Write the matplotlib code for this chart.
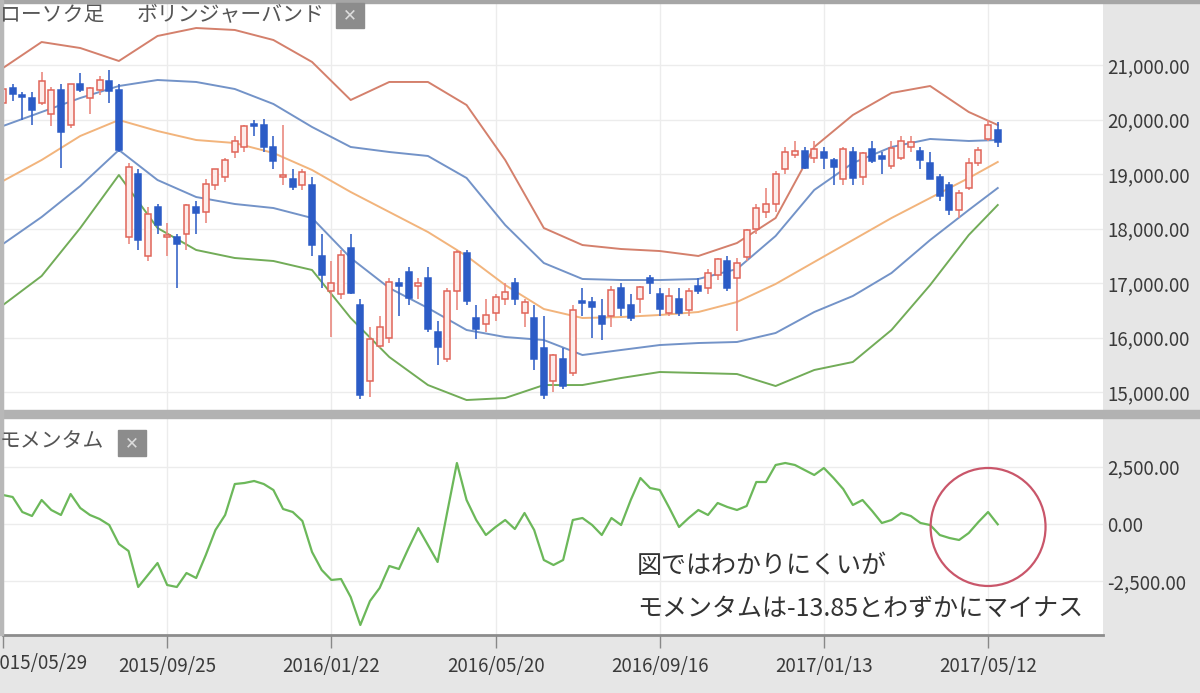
import matplotlib
matplotlib.use("Agg")
import matplotlib.pyplot as plt
from matplotlib.patches import Rectangle, Ellipse
from matplotlib.ticker import FuncFormatter

plt.rcParams['font.family'] = ['Noto Sans CJK JP', 'DejaVu Sans']

W, H = 1200, 693

# weekly candles, week 0 = 2015/05/29
opens = [20300, 20570, 20450, 20400, 20300, 20100, 20550, 19900, 20650, 20400,
         20550, 20700, 20550, 17850, 19000, 17500, 18400, 17850, 17850, 17900,
         18400, 18300, 18800, 18950, 19400, 19500, 19900, 19900, 19500, 18950,
         18900, 18800, 18800, 17500, 16850, 16800, 17650, 16600, 15200, 15850,
         16000, 17000, 17200, 16950, 17100, 16100, 15600, 16850, 17550, 16350,
         16250, 16450, 16700, 17000, 16450, 16350, 15800, 15200, 15600, 15350,
         16650, 16650, 16400, 16400, 16900, 16600, 16700, 17100, 16800, 16450,
         16700, 16500, 16950, 16900, 17150, 17400, 17100, 17480, 18000, 18300,
         18450, 19100, 19350, 19420, 19300, 19400, 19250, 18900, 19400, 18950,
         19450, 19300, 19150, 19300, 19500, 19420, 19200, 18950, 18800, 18340,
         18750, 19200, 19650, 19800]
highs = [20655, 20655, 20500, 20500, 20868, 20600, 20650, 20650, 20850, 20600,
         20800, 20900, 20650, 19200, 19100, 18400, 18450, 18100, 17900, 18450,
         18500, 18900, 19100, 19300, 19700, 19900, 20000, 20012, 19700, 19900,
         19100, 19100, 18950, 17900, 17400, 17600, 17900, 16700, 16200, 16400,
         17100, 17100, 17300, 17100, 17300, 16300, 16900, 17613, 17600, 16600,
         16700, 16800, 17000, 17100, 16700, 16600, 16400, 15700, 15800, 16600,
         16900, 16750, 16700, 16950, 17000, 16800, 16950, 17150, 16900, 16900,
         16900, 16900, 17100, 17250, 17450, 17500, 17450, 18000, 18450, 18750,
         19050, 19500, 19600, 19500, 19615, 19500, 19300, 19500, 19500, 19400,
         19600, 19400, 19600, 19700, 19700, 19500, 19400, 19000, 18850, 18700,
         19300, 19500, 20000, 19950]
lows = [20200, 20340, 19990, 19900, 20260, 19880, 19115, 19850, 20500, 20100,
        20450, 20300, 19400, 17714, 17600, 17400, 17900, 17500, 16901, 17600,
        17900, 18100, 18700, 18850, 19300, 19400, 19700, 19400, 19100, 18800,
        18700, 18700, 17500, 16900, 16017, 16700, 16800, 14865, 14900, 15800,
        15900, 16400, 16600, 16700, 16100, 15500, 15550, 16500, 16600, 15975,
        16100, 16300, 16600, 16600, 16200, 15400, 14864, 15000, 15050, 15300,
        16400, 16000, 15950, 16200, 16400, 16300, 16450, 16800, 16400, 16400,
        16400, 16400, 16800, 16800, 17050, 16850, 16111, 17400, 17900, 18200,
        18300, 19000, 19300, 19100, 19200, 19100, 18800, 18800, 18800, 18800,
        19200, 19000, 19100, 19250, 19400, 19100, 18900, 18500, 18250, 18200,
        18700, 19150, 19600, 19500]
closes = [20563, 20461, 20407, 20174, 20706, 20539, 19780, 20650, 20544, 20585,
          20724, 20519, 19435, 19136, 17792, 18264, 18070, 17880, 17725, 18438,
          18291, 18825, 19083, 19265, 19597, 19879, 19883, 19504, 19230, 18986,
          18769, 19033, 17697, 17147, 17000, 17518, 16819, 14952, 15967, 16188,
          17014, 16938, 16724, 17002, 16164, 15821, 16848, 17572, 16666, 16150,
          16412, 16736, 16834, 16700, 16650, 15599, 14952, 15682, 15106, 16497,
          16627, 16569, 16254, 16880, 16545, 16360, 16925, 17000, 16519, 16754,
          16450, 16860, 16856, 17184, 17446, 16905, 17374, 17967, 18381, 18450,
          18996, 19401, 19427, 19114, 19454, 19287, 19137, 19467, 18918, 19378,
          19234, 19283, 19469, 19604, 19580, 19262, 18909, 18597, 18335, 18650,
          19196, 19445, 19900, 19590]

# Bollinger bands read every 4 weeks
band_idx = [0, 4, 8, 12, 16, 20, 24, 28, 32, 36, 40, 44, 48, 52, 56, 60, 64,
            68, 72, 76, 80, 84, 88, 92, 96, 100, 103]
band_up2 = [20945, 21422, 21312, 21074, 21533, 21679, 21643, 21459, 21056, 20358,
            20689, 20689, 20266, 19257, 18009, 17697, 17624, 17587, 17496, 17734,
            18193, 19496, 20083, 20487, 20615, 20138, 19899]
band_up1 = [19881, 20138, 20395, 20615, 20725, 20689, 20560, 20285, 19863, 19496,
            19404, 19331, 18927, 18064, 17367, 17074, 17055, 17055, 17074, 17257,
            17863, 18707, 19202, 19496, 19643, 19606, 19624]
band_mid = [18872, 19257, 19698, 19991, 19789, 19624, 19569, 19386, 19074, 18670,
            18303, 17936, 17496, 16963, 16523, 16358, 16376, 16413, 16468, 16652,
            16982, 17386, 17789, 18193, 18560, 18927, 19221]
band_lo1 = [17716, 18211, 18780, 19441, 18890, 18578, 18450, 18376, 18193, 17459,
            16908, 16541, 16138, 16009, 15954, 15679, 15771, 15862, 15899, 15918,
            16083, 16468, 16762, 17184, 17789, 18340, 18743]
band_lo2 = [16596, 17129, 18009, 18982, 18009, 17606, 17459, 17404, 17239, 16358,
            15642, 15128, 14853, 14890, 15128, 15128, 15257, 15367, 15349, 15330,
            15110, 15404, 15551, 16138, 16963, 17881, 18431]

momentum = [1262, 1175, 522, 348, 1044, 609, 392, 1305, 696, 392,
            218, -44, -870, -1175, -2741, -2219, -1697, -2654, -2741, -2132,
            -2349, -1349, -261, 392, 1740, 1784, 1871, 1740, 1479, 653,
            522, 131, -1218, -2001, -2436, -2393, -3176, -4394, -3350, -2784,
            -1827, -1958, -1044, -174, -914, -1653, 522, 2654, 1044, 174,
            -479, -131, 174, -218, 479, -261, -1566, -1784, -1566, 174,
            261, -44, -479, 261, -44, 1044, 2001, 1566, 1479, 696,
            -131, 261, 609, 392, 914, 740, 609, 783, 1827, 1827,
            2567, 2654, 2567, 2349, 2132, 2436, 2001, 1523, 827, 1044,
            566, 44, 174, 479, 348, 44, -44, -479, -609, -696,
            -392, 87, 522, -13.85]

date_idx = [0, 17, 34, 51, 68, 85, 102]
date_labels = ['2015/05/29', '2015/09/25', '2016/01/22', '2016/05/20',
               '2016/09/16', '2017/01/13', '2017/05/12']
price_ticks = [15000, 16000, 17000, 18000, 19000, 20000, 21000]
mom_ticks = [-2500, 0, 2500]

title_top = ['ローソク足', 'ボリンジャーバンド']
title_bottom = 'モメンタム'
note_lines = ['図ではわかりにくいが', 'モメンタムは-13.85とわずかにマイナス']


def frac(x0, y0, x1, y1):
    return [x0 / W, 1 - y1 / H, (x1 - x0) / W, (y1 - y0) / H]


def fx(x):
    return x / W


def fy(y):
    return 1 - y / H


fig = plt.figure(figsize=(W / 100, H / 100), dpi=100, facecolor='#e6e6e6')

ax1 = fig.add_axes(frac(3, 3, 1103, 410))
ax2 = fig.add_axes(frac(3, 419, 1103, 635))

for ax in (ax1, ax2):
    ax.set_facecolor('white')
    ax.set_xlim(0.52, 113.9)
    for s in ax.spines.values():
        s.set_visible(False)
    ax.grid(True, color='#ececec', lw=1)
    ax.set_axisbelow(True)
    ax.yaxis.tick_right()
    ax.tick_params(axis='y', length=0, pad=3, labelsize=13.5, labelcolor='#3a3a3a')
    ax.set_xticks(date_idx)

ax1.tick_params(axis='x', length=0, labelbottom=False)
ax1.set_ylim(14670, 22138)
ax1.set_yticks(price_ticks)
ax1.yaxis.set_major_formatter(FuncFormatter(lambda v, p: f'{v:,.2f}'))

# bands
ax1.plot(band_idx, band_up2, color='#d4806c', lw=1.4, zorder=2)
ax1.plot(band_idx, band_up1, color='#7393c8', lw=1.4, zorder=2)
ax1.plot(band_idx, band_mid, color='#f2b47c', lw=1.4, zorder=2)
ax1.plot(band_idx, band_lo1, color='#7393c8', lw=1.4, zorder=2)
ax1.plot(band_idx, band_lo2, color='#72ac58', lw=1.4, zorder=2)

# candles
for i in range(len(closes)):
    o, h, l, c = opens[i], highs[i], lows[i], closes[i]
    up = c >= o
    col = '#e06458' if up else '#2c5cc6'
    ax1.vlines(i, l, h, color='#ea8a80' if up else '#3a66c8', lw=1.2, zorder=3)
    body = max(abs(c - o), 40)
    ax1.bar(i, body, bottom=min(o, c), width=0.62,
            facecolor='#fdecea' if up else col, edgecolor=col, lw=1.1, zorder=4)

# momentum
ax2.set_ylim(-4829, 4568)
ax2.set_yticks(mom_ticks)
ax2.yaxis.set_major_formatter(FuncFormatter(lambda v, p: f'{v:,.2f}'))
ax2.plot(range(len(momentum)), momentum, color='#6cb85a', lw=1.6, zorder=3)
# first date sits at the clipped left edge, drawn separately below
ax2.set_xticklabels([''] + date_labels[1:])
ax2.tick_params(axis='x', length=9, width=1, color='#888888', pad=6,
                labelsize=13.5, labelcolor='#3a3a3a')
ax2.spines['bottom'].set_visible(True)
ax2.spines['bottom'].set_color('#8c8c8c')
ax2.spines['bottom'].set_linewidth(2)
fig.text(fx(-11), fy(664), date_labels[0], fontsize=13.5, color='#3a3a3a',
         va='center')

ax2.add_patch(Ellipse((102.0, -130), 11.9, 5133, fill=False,
                      edgecolor='#c9566a', lw=1.6, zorder=5, clip_on=False))

# frame bars
fig.patches.append(Rectangle((0, fy(3)), 1, 3 / H, transform=fig.transFigure,
                             color='#a6a6a6', zorder=0))
fig.patches.append(Rectangle((0, fy(418)), 1, 8 / H, transform=fig.transFigure,
                             color='#b2b2b2', zorder=0))
fig.patches.append(Rectangle((0, fy(635)), 3 / W, 635 / H, transform=fig.transFigure,
                             color='#b8b8b8', zorder=0))

# panel titles with close boxes
fig.text(fx(0), fy(15), title_top[0], fontsize=15, color='#555555', va='center')
fig.text(fx(137), fy(15), title_top[1], fontsize=15, color='#555555', va='center')
fig.text(fx(0), fy(441), title_bottom, fontsize=15, color='#555555', va='center')
for x0, y0, x1, y1 in [(336, 3, 364, 28), (118, 430, 146, 456)]:
    fig.patches.append(Rectangle((fx(x0), fy(y1)), (x1 - x0) / W, (y1 - y0) / H,
                                 transform=fig.transFigure, color='#8c8c8c', zorder=5))
    fig.text(fx((x0 + x1) / 2), fy((y0 + y1) / 2), '✕', fontsize=12,
             color='#dcdcdc', ha='center', va='center', zorder=6,
             family=['DejaVu Sans'])

# note
fig.text(fx(637), fy(566), note_lines[0], fontsize=18, color='#333333', va='center')
fig.text(fx(637), fy(609), note_lines[1], fontsize=18, color='#333333', va='center')

fig.savefig('out.png', dpi=100, facecolor=fig.get_facecolor())
